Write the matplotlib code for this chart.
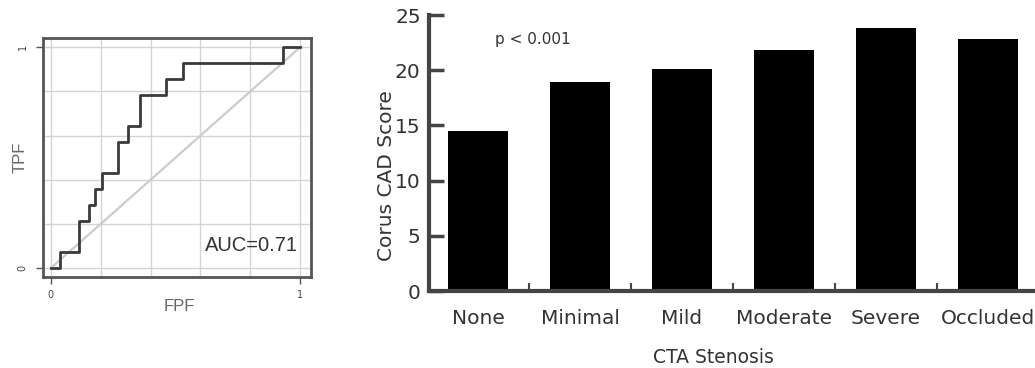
import numpy as np
import matplotlib.pyplot as plt

# ROC curve (step points)
fpf = [0, 0.037, 0.037, 0.111, 0.111, 0.154, 0.154, 0.175, 0.175, 0.205, 0.205,
       0.271, 0.271, 0.311, 0.311, 0.356, 0.356, 0.461, 0.461, 0.529, 0.529,
       0.930, 0.930, 1.0]
tpf = [0, 0, 0.071, 0.071, 0.214, 0.214, 0.286, 0.286, 0.357, 0.357, 0.429,
       0.429, 0.571, 0.571, 0.643, 0.643, 0.786, 0.786, 0.857, 0.857, 0.929,
       0.929, 1.0, 1.0]
auc_text = 'AUC=0.71'

# bar chart
categories = ['None', 'Minimal', 'Mild', 'Moderate', 'Severe', 'Occluded']
scores = [14.5, 18.9, 20.1, 21.8, 23.8, 22.8]

fig = plt.figure(figsize=(10.35, 3.68), dpi=100)

# ---- left: ROC ----
ax1 = fig.add_axes([0.0415, 0.247, 0.259, 0.649])
ax1.set_xlim(-0.032, 1.044)
ax1.set_ylim(-0.041, 1.041)
for g in np.arange(0, 1.01, 0.2):
    ax1.axvline(g, color='#d4d4d4', lw=1, zorder=0)
    ax1.axhline(g, color='#d4d4d4', lw=1, zorder=0)
ax1.plot([0, 1], [0, 1], color='#cccccc', lw=1.6, zorder=1)
ax1.plot(fpf, tpf, color='#3a3a3a', lw=2, zorder=2)
ax1.text(0.99, 0.104, auc_text, ha='right', va='center', fontsize=14.5,
         family='Liberation Sans', color='#333333')
for s in ax1.spines.values():
    s.set_color('#555555')
    s.set_linewidth(2)
ax1.set_xticks([0, 1])
ax1.set_xticklabels(['0', '1'], fontsize=7, color='#444444')
ax1.set_yticks([0, 1])
ax1.set_yticklabels(['0', '1'], fontsize=7, color='#444444', rotation=90,
                    va='center')
ax1.tick_params(length=5, width=1, color='#555555', pad=4)
ax1.tick_params(axis='y', pad=6)
ax1.set_xlabel('FPF', fontsize=12, color='#666666', family='Liberation Sans')
ax1.set_ylabel('TPF', fontsize=12, color='#666666', family='Liberation Sans')
ax1.xaxis.set_label_coords(0.51, -0.09)
ax1.yaxis.set_label_coords(-0.056, 0.5)

# ---- right: bars ----
ax2 = fig.add_axes([0.4145, 0.209, 0.5855, 0.750])
x = np.arange(len(categories))
ax2.bar(x, scores, width=0.58, color='black')
ax2.set_xlim(-0.48, 5.46)
ax2.set_ylim(0, 25)
ax2.spines['top'].set_visible(False)
ax2.spines['right'].set_visible(False)
for s in ['left', 'bottom']:
    ax2.spines[s].set_color('#444444')
    ax2.spines[s].set_linewidth(3)
ax2.set_yticks(range(0, 26, 5))
ax2.set_xticks(x[:-1] + 0.5, minor=False)
ax2.set_xticklabels([])
ax2.set_xticks(x, minor=True)
ax2.set_xticklabels(categories, minor=True)
ax2.tick_params(axis='x', which='major', direction='in', length=6, width=1.5,
                color='#444444')
ax2.tick_params(axis='x', which='minor', length=0, pad=13, labelsize=14.5)
ax2.tick_params(axis='y', direction='in', length=11, width=2.5, color='#444444',
                labelsize=14.5, pad=6)
for lab in ax2.get_xticklabels(minor=True) + ax2.get_yticklabels():
    lab.set_color('#333333')
ax2.set_xlabel('CTA Stenosis', fontsize=13.5, color='#333333')
ax2.xaxis.set_label_coords(0.469, -0.205)
ax2.set_ylabel('Corus CAD Score', fontsize=14.5, color='#333333')
ax2.yaxis.set_label_coords(-0.055, 0.42)
ax2.text(0.17, 22.8, 'p < 0.001', fontsize=11, color='#333333', va='center')

fig.savefig('out.png', dpi=100)
